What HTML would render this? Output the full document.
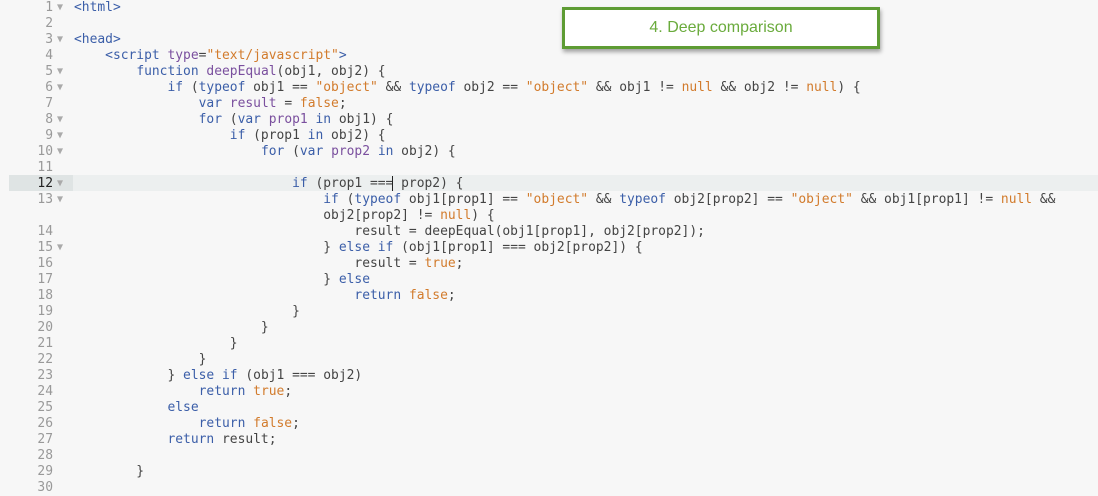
<!DOCTYPE html>
<html><head><style>
body{margin:0;width:1098px;height:488px;overflow:hidden;background:#f7f7f7;font-family:"DejaVu Sans Mono",monospace;font-size:12.95px;color:#444;}
.l{position:absolute;left:0;height:16px;line-height:16px;white-space:pre;width:1098px}
.n{position:absolute;left:0;width:53px;text-align:right;color:#999}
.a{position:absolute;left:57px;color:#aaa;font-size:10px}
.c{position:absolute;left:74px}
.k{color:#3b5ea8}.s{color:#d27b2c}.t{color:#3b5ea8}.p{color:#7a4f9e}
#hl{position:absolute;left:9px;top:175px;width:1089px;height:16px;background:#ecefef}
#hg{position:absolute;left:9px;top:175px;width:64px;height:16px;background:#dfe4e4}
#box{position:absolute;left:562px;top:7px;width:312px;height:36px;border:3px solid #5e9c34;background:#fff;box-shadow:1px 3px 4px rgba(0,0,0,.35);color:#6aab3c;font-family:"Liberation Sans",sans-serif;font-size:16px;text-align:center;line-height:36px}
</style></head><body>
<div id="hl"></div><div id="hg"></div>
<div class="l" style="top:0px"><span class="n">1</span><span class="a">▼</span><span class="c"><span class="t">&lt;html&gt;</span></span></div>
<div class="l" style="top:16px"><span class="n">2</span></div>
<div class="l" style="top:32px"><span class="n">3</span><span class="a">▼</span><span class="c"><span class="t">&lt;head&gt;</span></span></div>
<div class="l" style="top:48px"><span class="n">4</span><span class="c">    <span class="t">&lt;script</span> <span class="p">type</span>=<span class="s">"text/javascript"</span><span class="t">&gt;</span></span></div>
<div class="l" style="top:64px"><span class="n">5</span><span class="a">▼</span><span class="c">        <span class="k">function</span> <span class="p">deepEqual</span>(obj1, obj2) {</span></div>
<div class="l" style="top:80px"><span class="n">6</span><span class="a">▼</span><span class="c">            <span class="k">if</span> (<span class="k">typeof</span> obj1 == <span class="s">"object"</span> &amp;&amp; <span class="k">typeof</span> obj2 == <span class="s">"object"</span> &amp;&amp; obj1 != <span class="s">null</span> &amp;&amp; obj2 != <span class="s">null</span>) {</span></div>
<div class="l" style="top:96px"><span class="n">7</span><span class="c">                <span class="k">var</span> <span class="p">result</span> = <span class="s">false</span>;</span></div>
<div class="l" style="top:112px"><span class="n">8</span><span class="a">▼</span><span class="c">                <span class="k">for</span> (<span class="k">var</span> <span class="p">prop1</span> <span class="k">in</span> obj1) {</span></div>
<div class="l" style="top:128px"><span class="n">9</span><span class="a">▼</span><span class="c">                    <span class="k">if</span> (prop1 <span class="k">in</span> obj2) {</span></div>
<div class="l" style="top:144px"><span class="n">10</span><span class="a">▼</span><span class="c">                        <span class="k">for</span> (<span class="k">var</span> <span class="p">prop2</span> <span class="k">in</span> obj2) {</span></div>
<div class="l" style="top:160px"><span class="n">11</span></div>
<div class="l" style="top:176px"><span class="n" style="color:#222">12</span><span class="a">▼</span><span class="c">                            <span class="k">if</span> (prop1 ===<span style="border-left:1px solid #222;margin-left:-1px"></span> prop2) {</span></div>
<div class="l" style="top:192px"><span class="n">13</span><span class="a">▼</span><span class="c">                                <span class="k">if</span> (<span class="k">typeof</span> obj1[prop1] == <span class="s">"object"</span> &amp;&amp; <span class="k">typeof</span> obj2[prop2] == <span class="s">"object"</span> &amp;&amp; obj1[prop1] != <span class="s">null</span> &amp;&amp;</span></div>
<div class="l" style="top:208px"><span class="c">                                obj2[prop2] != <span class="s">null</span>) {</span></div>
<div class="l" style="top:224px"><span class="n">14</span><span class="c">                                    result = deepEqual(obj1[prop1], obj2[prop2]);</span></div>
<div class="l" style="top:240px"><span class="n">15</span><span class="a">▼</span><span class="c">                                } <span class="k">else if</span> (obj1[prop1] === obj2[prop2]) {</span></div>
<div class="l" style="top:256px"><span class="n">16</span><span class="c">                                    result = <span class="s">true</span>;</span></div>
<div class="l" style="top:272px"><span class="n">17</span><span class="c">                                } <span class="k">else</span></span></div>
<div class="l" style="top:288px"><span class="n">18</span><span class="c">                                    <span class="k">return</span> <span class="s">false</span>;</span></div>
<div class="l" style="top:304px"><span class="n">19</span><span class="c">                            }</span></div>
<div class="l" style="top:320px"><span class="n">20</span><span class="c">                        }</span></div>
<div class="l" style="top:336px"><span class="n">21</span><span class="c">                    }</span></div>
<div class="l" style="top:352px"><span class="n">22</span><span class="c">                }</span></div>
<div class="l" style="top:368px"><span class="n">23</span><span class="c">            } <span class="k">else if</span> (obj1 === obj2)</span></div>
<div class="l" style="top:384px"><span class="n">24</span><span class="c">                <span class="k">return</span> <span class="s">true</span>;</span></div>
<div class="l" style="top:400px"><span class="n">25</span><span class="c">            <span class="k">else</span></span></div>
<div class="l" style="top:416px"><span class="n">26</span><span class="c">                <span class="k">return</span> <span class="s">false</span>;</span></div>
<div class="l" style="top:432px"><span class="n">27</span><span class="c">            <span class="k">return</span> result;</span></div>
<div class="l" style="top:448px"><span class="n">28</span></div>
<div class="l" style="top:464px"><span class="n">29</span><span class="c">        }</span></div>
<div class="l" style="top:480px"><span class="n">30</span></div>
<div id="box">4. Deep comparison</div>
</body></html>
